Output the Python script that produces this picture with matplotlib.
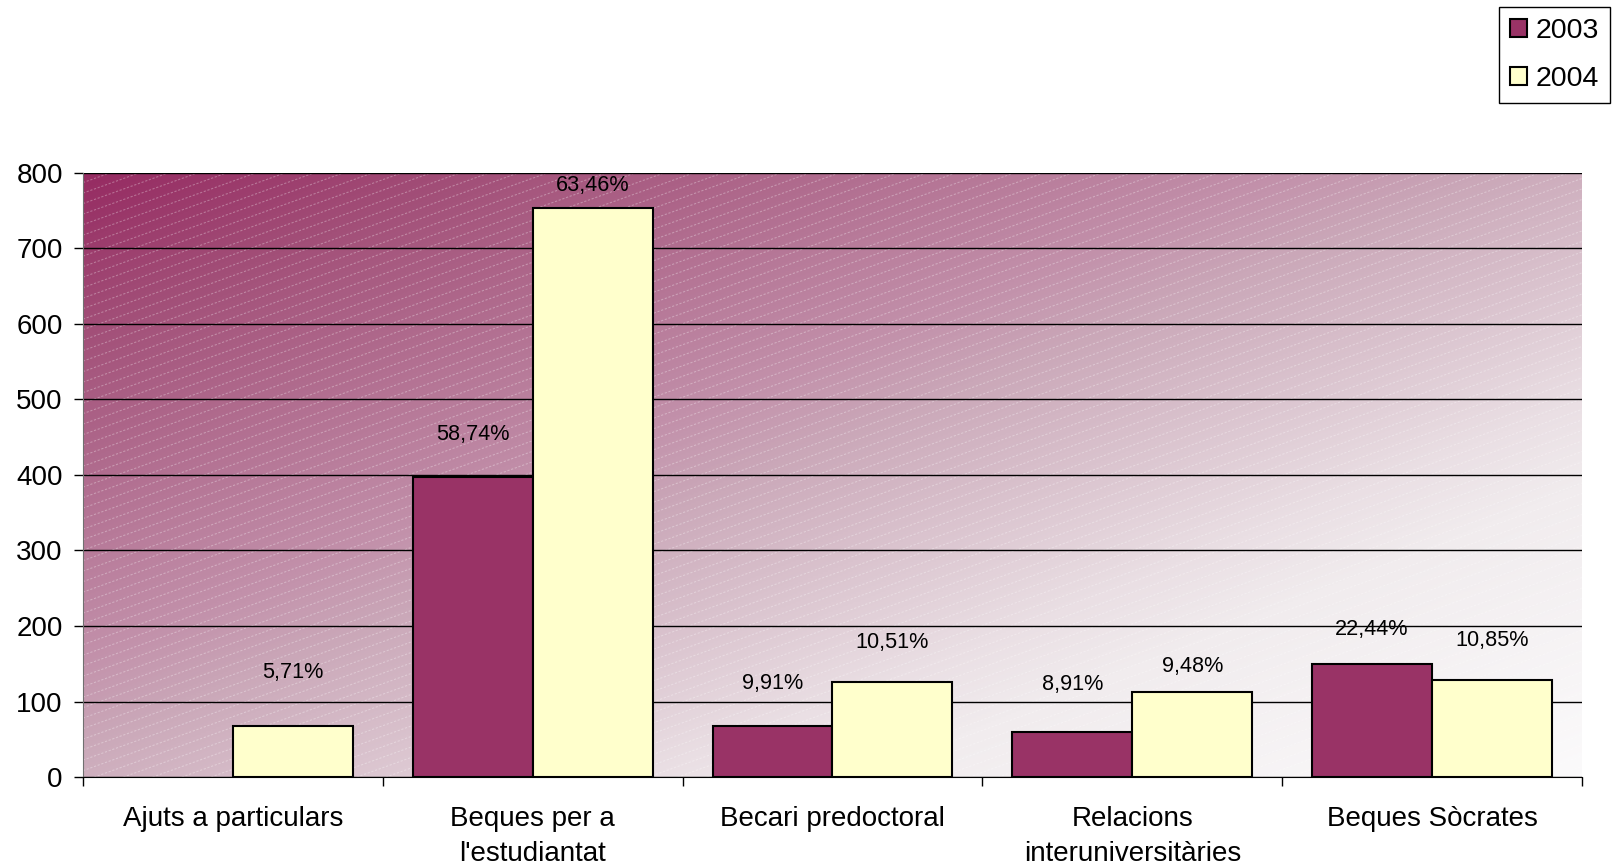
import numpy as np
import matplotlib
matplotlib.use("Agg")
import matplotlib.pyplot as plt
from matplotlib.colors import LinearSegmentedColormap
from matplotlib.patches import Patch
from matplotlib.collections import LineCollection

plt.rcParams["font.family"] = ["Liberation Sans", "DejaVu Sans"]

categories = ["Ajuts a particulars", "Beques per a\nl'estudiantat", "Becari predoctoral",
              "Relacions\ninteruniversitàries", "Beques Sòcrates"]
years = ["2003", "2004"]
values_2003 = [0, 397, 67, 59, 150]
values_2004 = [68, 754, 126, 112, 129]
pct_2003 = ["", "58,74%", "9,91%", "8,91%", "22,44%"]
pct_2004 = ["5,71%", "63,46%", "10,51%", "9,48%", "10,85%"]
# height of each label above its bar, in data units
gap_2003 = [0, 56, 57, 63, 45]
gap_2004 = [70, 30, 52, 34, 52]

col_2003 = "#993366"
col_2004 = "#FFFFCC"

fig = plt.figure(figsize=(16.21, 8.67), dpi=100)
ax = fig.add_axes((0.0512, 0.1038, 0.9247, 0.6967))

# diagonal gradient background
grad = LinearSegmentedColormap.from_list("bg", [
    (0.0, "#962B62"), (0.13, "#A24F78"), (0.40, "#C290AA"), (0.47, "#CAA7B8"),
    (0.69, "#EADFE4"), (0.76, "#F1ECEE"), (1.0, "#FBFAFB")])
u = np.linspace(0, 1, 600)
w = np.linspace(0, 1, 300)
U, W = np.meshgrid(u, w)
ax.imshow((U + W) / 2, cmap=grad, extent=(0, 1, 0, 1), origin="upper",
          transform=ax.transAxes, aspect="auto", zorder=0, interpolation="bilinear")

# faint dashed diagonal hatch
wpx, hpx = 1499.0, 604.0
slope, step = 0.36, 10.5
segs = []
for c in np.arange(-wpx * slope, hpx, step):
    segs.append([(0, c / hpx), (1, (c + wpx * slope) / hpx)])
hatch = LineCollection(segs, colors="white", alpha=0.3, linewidths=0.8,
                       linestyles=(0, (2, 1.5)), transform=ax.transAxes, zorder=0.5)
ax.add_collection(hatch)

x = np.arange(len(categories))
bw = 0.4
v03 = np.array(values_2003)
v04 = np.array(values_2004)
m03 = v03 > 0
m04 = v04 > 0
ax.bar(x[m03] - bw / 2, v03[m03], bw, color=col_2003, edgecolor="black", linewidth=1.5, zorder=3)
ax.bar(x[m04] + bw / 2, v04[m04], bw, color=col_2004, edgecolor="black", linewidth=1.5, zorder=3)

for i in range(len(categories)):
    if pct_2003[i]:
        ax.text(x[i] - bw / 2, values_2003[i] + gap_2003[i], pct_2003[i],
                ha="center", va="center", fontsize=15.6, zorder=4)
    ax.text(x[i] + bw / 2, values_2004[i] + gap_2004[i], pct_2004[i],
            ha="center", va="center", fontsize=15.6, zorder=4)

ax.set_xlim(-0.5, len(categories) - 0.5)
ax.set_ylim(0, 800)
ax.set_yticks(range(0, 801, 100))
ax.yaxis.grid(True, color="black", linewidth=1, zorder=1)
ax.set_axisbelow(True)
ax.tick_params(axis="y", labelsize=20, length=6.5, width=1, pad=8, direction="out")

ax.set_xticks(x)
ax.set_xticklabels(categories, fontsize=20, linespacing=1.42)
ax.set_xticks(np.arange(-0.5, len(categories)), minor=True)
ax.tick_params(axis="x", which="major", length=0, pad=21)
ax.tick_params(axis="x", which="minor", length=6.5, width=1, direction="out")

for s in ("top", "right"):
    ax.spines[s].set_visible(False)
ax.spines["left"].set_color("#707070")
ax.spines["bottom"].set_color("black")

handles = [Patch(facecolor=col_2003, edgecolor="black", linewidth=1.5),
           Patch(facecolor=col_2004, edgecolor="black", linewidth=1.5)]
leg = fig.legend(handles, years, loc="upper right", bbox_to_anchor=(1610 / 1621, 1 - 7 / 867),
                 borderaxespad=0, fontsize=20.5, handlelength=0.62, handleheight=0.62,
                 handletextpad=0.3, labelspacing=0.78, borderpad=0.38, fancybox=False,
                 edgecolor="black", framealpha=1)
leg.get_frame().set_linewidth(1)

fig.savefig("out.png", dpi=100)
